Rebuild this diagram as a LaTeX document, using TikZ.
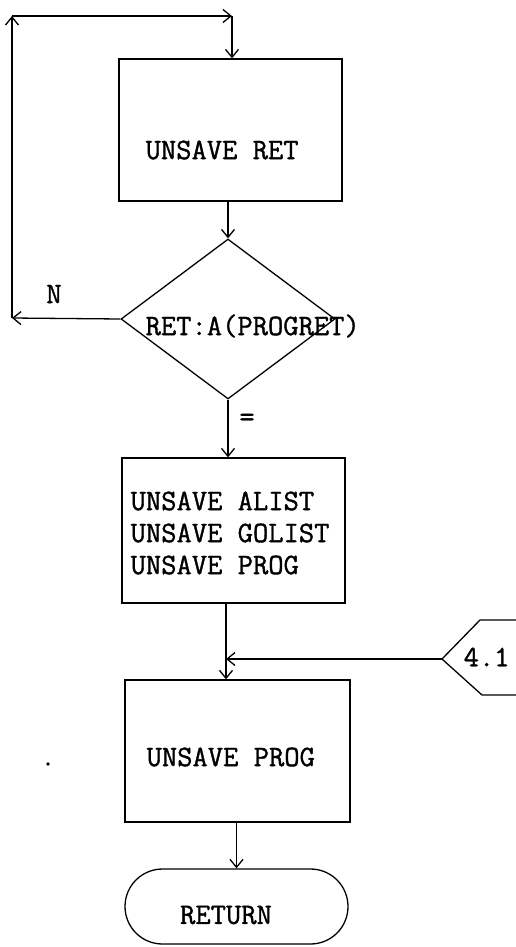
\documentclass[tikz,border=0pt]{standalone}
\usepackage{fontspec}
\newfontfamily\tw[FakeBold=1.2]{Latin Modern Mono}
\usetikzlibrary{arrows.meta,shapes.geometric,shapes.misc}
\begin{document}
\begin{tikzpicture}[x=1pt,y=-1pt,
  line width=1.3pt,
  >={Straight Barb[length=8pt,width=13pt]},
  txt/.style={font=\tw\fontsize{29.7}{32}\selectfont, inner sep=0pt},
  procbox/.style={draw, rectangle, inner sep=0pt},
  decis/.style={draw, diamond, inner sep=0pt},
  term/.style={draw, rounded rectangle, inner sep=0pt},
  flow/.style={->}]
\useasboundingbox (0,0) rectangle (516,947);
% boxes
\node[procbox, minimum width=223pt, minimum height=142pt] (b1) at (230.5,130) {};
\node[txt, anchor=west] (t1) at (145,150) {UNSAVE RET};
\node[decis, minimum width=214pt, minimum height=160pt] (dia) at (228,319) {};
\node[txt, anchor=west] (t2) at (145,326) {RET:A(PROGRET)};
\node[procbox, minimum width=223pt, minimum height=145pt] (b2) at (233.5,530.5) {};
\node[txt, anchor=west, align=left] (t3) at (130,533) {UNSAVE ALIST\\UNSAVE GOLIST\\UNSAVE PROG};
\node[procbox, minimum width=225pt, minimum height=142pt] (b3) at (237.5,751) {};
\node[txt, anchor=west] (t4) at (146,757) {UNSAVE PROG};
\node[term, minimum width=223pt, minimum height=75pt] (ret) at (236.5,906.5) {};
\node[txt] (t5) at (226,915) {RETURN};
% labels
\node[txt] (lN) at (54,294) {N};
\node[txt] (lEq) at (247,420) {=};
% off-page connector 4.1
\coordinate (c41) at (442,659);
\draw (516,620) -- (480,620) -- (c41) -- (482,695) -- (516,695);
\node[txt, anchor=west] (t41) at (463,657) {4.1};
% loop coordinates
\coordinate (cl) at (12,318);
\coordinate (ct) at (12,16);
\coordinate (cr) at (232,16);
\coordinate (j) at (226,659);
% connectors
\draw[flow] (dia.west) -- (cl);
\draw[flow] (cl) -- (ct);
\draw[flow] (ct) -- (cr);
\draw[flow] (cr) -- (cr |- b1.north);
\draw[flow] (228,201) -- (dia.north);
\draw[flow] (dia.south) -- (dia.south |- b2.north);
\draw (j |- b2.south) -- (j);
\draw[flow] (j) -- (j |- b3.north);
\draw[flow] (c41) -- (j);
\draw[flow] (b3.south -| ret.north) -- (ret.north);
% stray dot
\fill (48,764) circle (1.8pt);
\end{tikzpicture}
\end{document}
